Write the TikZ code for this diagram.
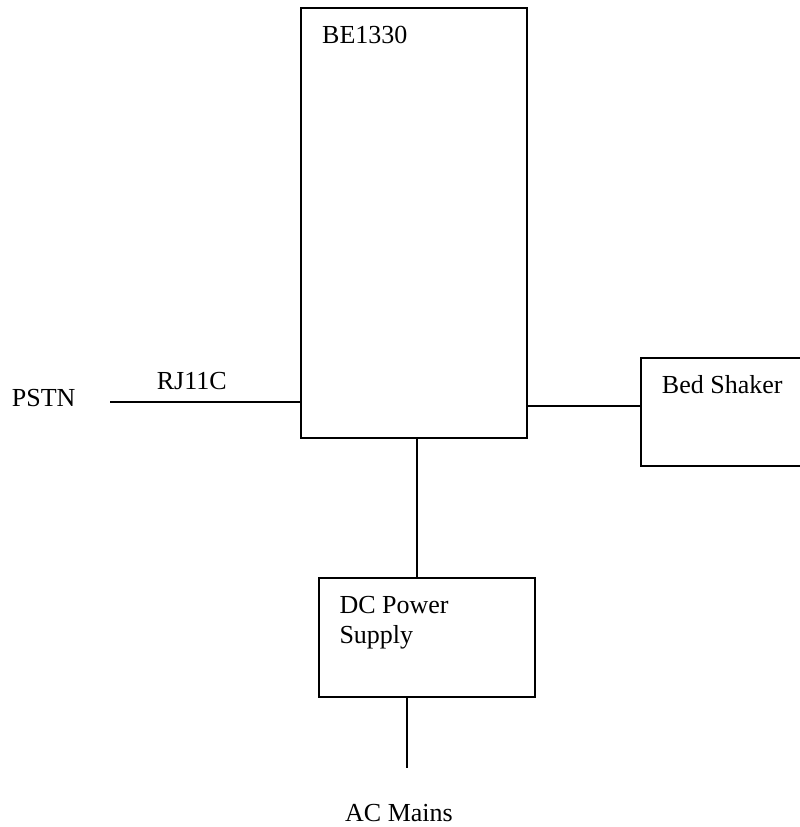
\documentclass[tikz,border=0pt]{standalone}
\usepackage{fontspec}
\setmainfont{Liberation Serif}
\usepackage{tikz}
\usetikzlibrary{positioning,calc}
\tikzset{
  % block
  blk/.style={rectangle,draw=black,line width=2pt,fill=white,inner sep=0pt},
  lbl/.style={anchor=base west,inner sep=0pt,font=\fontsize{26}{30}\selectfont,align=left},
  wire/.style={draw=black,line width=2pt},
}
\begin{document}
\begin{tikzpicture}[x=1pt,y=-1pt]
\useasboundingbox (0,0) rectangle (800,827);
\clip (0,0) rectangle (800,827);
  \node[blk,minimum width=226pt,minimum height=430pt] (be) at (414,223.3) {};
  \node[blk,minimum width=179.3pt,minimum height=107.7pt] (shaker) at (730.35,412.15) {};
  \node[blk,minimum width=216pt,minimum height=118.4pt] (dc) at (427,637.5) {};
  \coordinate (pstn) at (110,402.3);
  \coordinate (tap) at (600,405.7);
  \coordinate (pwr) at (416.7,500);
  \coordinate (mains) at (407,768.3);
  \node[lbl] (betxt) at (322,43.3) {BE1330};
  \node[lbl] (pstntxt) at (11.7,406.7) {PSTN};
  \node[lbl] (rjtxt) at (156.7,389.3) {RJ11C};
  \node[lbl] (shakertxt) at (661.7,393.3) {Bed Shaker};
  \node[lbl] (dctxt) at (339.3,643.3) {DC Power\\Supply};
  \node[lbl] (mainstxt) at (345,821.7) {AC Mains};
  \draw[wire] (pstn) -- (be.west |- pstn);
  \draw[wire] (be.east |- tap) -- (shaker.west |- tap);
  \draw[wire] (be.south -| pwr) -- (dc.north -| pwr);
  \draw[wire] (dc.south -| mains) -- (mains);
\end{tikzpicture}
\end{document}
